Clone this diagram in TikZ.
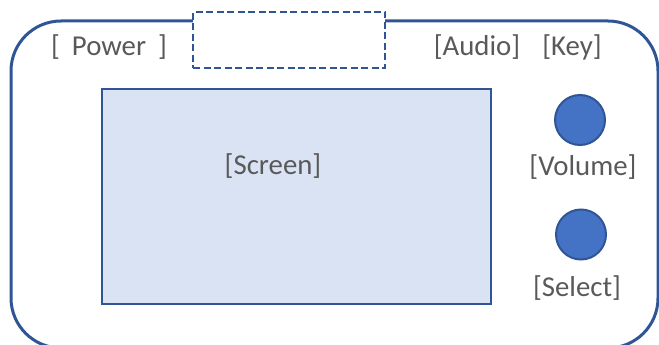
\documentclass[tikz,border=0pt]{standalone}
\usepackage{fontspec}
\setmainfont{Carlito}
\definecolor{edgeblue}{HTML}{2F5597}
\definecolor{screenfill}{HTML}{DAE3F3}
\definecolor{knobfill}{HTML}{4472C4}
\definecolor{labelgray}{HTML}{595959}
\tikzset{
  label text/.style={text=labelgray, font=\fontsize{28.8}{30}\selectfont, inner sep=0pt},
  knob/.style={circle, draw=edgeblue, fill=knobfill, line width=2pt, minimum size=50pt, inner sep=0pt},
}
\begin{document}
\begin{tikzpicture}[x=1pt, y=-1pt]
  \useasboundingbox (0,0) rectangle (659,345);
  \begin{scope}
    \clip (0,0) rectangle (659,345);
    % device body
    \draw[edgeblue, line width=3pt, rounded corners=50pt] (11,21) rectangle (658,348);
  \end{scope}
  % slot on top edge
  \node[draw=edgeblue, fill=white, line width=2.4pt, dash pattern=on 7pt off 3.5pt,
        minimum width=192pt, minimum height=56pt, inner sep=0pt] (slot) at (289,40) {};
  % screen
  \node[draw=edgeblue, fill=screenfill, line width=2.4pt,
        minimum width=389pt, minimum height=215pt, inner sep=0pt] (screen) at (296.5,196.5) {};
  \node[label text] (screenlbl) at (273,166) {[Screen]};
  % labels along the top
  \node[label text] (power) at (109,47) {[\hspace{12pt}Power\hspace{12pt}]};
  \node[label text] (audio) at (477,47) {[Audio]};
  \node[label text] (key) at (572,47) {[Key]};
  % knobs
  \node[knob] (volume) at (580,120) {};
  \node[label text] (volumelbl) at (583,167) {[Volume]};
  \node[knob] (select) at (581,234.5) {};
  \node[label text] (selectlbl) at (577,288) {[Select]};
\end{tikzpicture}
\end{document}
